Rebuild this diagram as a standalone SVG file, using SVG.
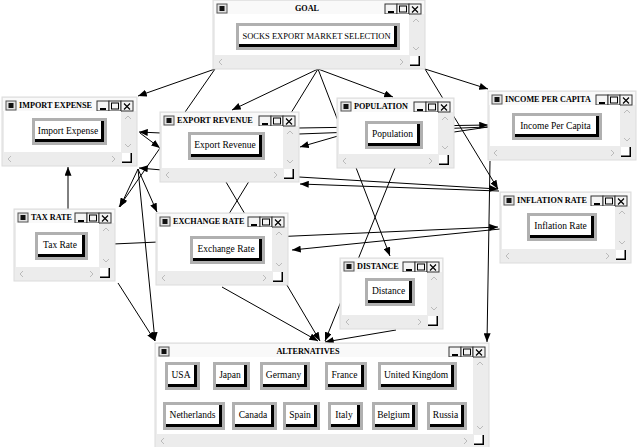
<svg xmlns="http://www.w3.org/2000/svg" width="640" height="447" viewBox="0 0 640 447">
<defs>
<style>
.win{fill:#ececec;stroke:#dcdcdc;stroke-width:1}
.tb{fill:#f9f9f9}
.ct{fill:#fff}
.ic{fill:#e2e2e2;stroke:#555;stroke-width:1}
.icd{fill:#111}
.bt{fill:#f4f4f4;stroke:#333;stroke-width:1}
.gm{stroke:#000;stroke-width:2;fill:none}
.gx{stroke:#000;stroke-width:1.2;fill:none}
.gb{fill:none;stroke:#000;stroke-width:1}
.chev{stroke:#bbb;stroke-width:1;fill:none}
.rz{fill:#fff}
.rzl{stroke:#000;stroke-width:1.5;fill:none}
.title{font-family:"Liberation Serif",serif;font-weight:bold;font-size:8.2px;fill:#000}
.mid{text-anchor:middle}
.lab{font-family:"Liberation Serif",serif;font-size:9.5px;fill:#000;text-anchor:middle}
.nf{fill:#b0b0b0}
.ns{fill:#000}
.nw{fill:#fff}
.ln{stroke:#000;stroke-width:1;fill:none}
</style>
<marker id="ah" viewBox="0 0 10 8" refX="10" refY="4" markerWidth="9" markerHeight="7" markerUnits="userSpaceOnUse" orient="auto"><path d="M0,0 L10,4 L0,8 z" fill="#000"/></marker>
</defs>
<rect width="640" height="447" fill="#fff"/>

<g id="connectors">
<path class="ln" d="M215,69 L138,96" marker-end="url(#ah)"/>
<path class="ln" d="M215,69 L119,207" marker-end="url(#ah)"/>
<path class="ln" d="M318,69 L232,110" marker-end="url(#ah)"/>
<path class="ln" d="M318,69 L224,222" marker-end="url(#ah)"/>
<path class="ln" d="M318,69 L393,97" marker-end="url(#ah)"/>
<path class="ln" d="M318,69 L390,256" marker-end="url(#ah)"/>
<path class="ln" d="M425,69 L488,89" marker-end="url(#ah)"/>
<path class="ln" d="M425,69 L498,189" marker-end="url(#ah)"/>
<path class="ln" d="M161,133 L139,132" marker-end="url(#ah)"/>
<path class="ln" d="M140,133 L160,148" marker-end="url(#ah)"/>
<path class="ln" d="M162,170 L139,168" marker-end="url(#ah)"/>
<path class="ln" d="M138,169 L120,207" marker-end="url(#ah)"/>
<path class="ln" d="M138,169 L157,212" marker-end="url(#ah)"/>
<path class="ln" d="M138,169 L155,341" marker-end="url(#ah)"/>
<path class="ln" d="M68,209 L68,167" marker-end="url(#ah)"/>
<path class="ln" d="M118,283 L155,341" marker-end="url(#ah)"/>
<path class="ln" d="M113,244 L498,227" marker-end="url(#ah)"/>
<path class="ln" d="M500,229 L292,250" marker-end="url(#ah)"/>
<path class="ln" d="M299,177 L498,189" marker-end="url(#ah)"/>
<path class="ln" d="M499,191 L300,184" marker-end="url(#ah)"/>
<path class="ln" d="M222,287 L318,341" marker-end="url(#ah)"/>
<path class="ln" d="M226,182 L320,341" marker-end="url(#ah)"/>
<path class="ln" d="M395,168 L325,341" marker-end="url(#ah)"/>
<path class="ln" d="M396,330 L325,342" marker-end="url(#ah)"/>
<path class="ln" d="M490,161 L487,342" marker-end="url(#ah)"/>
<path class="ln" d="M299,128 L488,125" marker-end="url(#ah)"/>
<path class="ln" d="M299,134 L488,127"/>
<path class="ln" d="M338,136 L300,147" marker-end="url(#ah)"/>
<path class="ln" d="M454,132 L488,127"/>
</g>

<g id="goal">
<rect class="win" x="213" y="0" width="212" height="69"/>
<rect class="tb" x="214" y="1" width="210" height="13"/>
<rect class="ic" x="217" y="4" width="10" height="9"/><rect class="icd" x="219.5" y="6" width="5" height="5"/>
<text class="title mid" x="307" y="11">GOAL</text>
<rect class="bt" x="385" y="4" width="12" height="10"/><path class="gm" d="M388,12 h6"/>
<rect class="bt" x="397" y="4" width="12" height="10"/><rect class="gb" x="399.5" y="6" width="7" height="6"/>
<rect class="bt" x="409" y="4" width="12" height="10"/><path class="gx" d="M412,6.5 l6,6 m0,-6 l-6,6"/>
<rect class="ct" x="215" y="14" width="194" height="41"/>
<path class="chev" d="M413,22 l3,-3 l3,3 M413,47 l3,3 l3,-3 M222,59 l-3,3 l3,3 M400,59 l3,3 l-3,3"/>
<rect class="rz" x="410" y="56" width="10" height="10"/><path class="rzl" d="M410,65.25 H419.25 V56"/>
<g id="node-goal">
<rect class="nf" x="236" y="23" width="164" height="27"/>
<rect class="ns" x="239" y="26" width="158" height="21"/>
<rect class="nw" x="239" y="26" width="155" height="18"/>
<text class="lab" x="316.5" y="38.5" style="font-size:8.5px">SOCKS EXPORT MARKET SELECTION</text>
</g>
</g>

<g id="import-expense">
<rect class="win" x="2" y="97" width="135" height="69"/>
<rect class="tb" x="3" y="98" width="133" height="13"/>
<rect class="ic" x="6" y="101" width="10" height="9"/><rect class="icd" x="8.5" y="103" width="5" height="5"/>
<text class="title" x="19" y="108">IMPORT EXPENSE</text>
<rect class="bt" x="97" y="101" width="12" height="10"/><path class="gm" d="M100,109 h6"/>
<rect class="bt" x="109" y="101" width="12" height="10"/><rect class="gb" x="111.5" y="103" width="7" height="6"/>
<rect class="bt" x="121" y="101" width="12" height="10"/><path class="gx" d="M124,103.5 l6,6 m0,-6 l-6,6"/>
<rect class="ct" x="4" y="111" width="117" height="41"/>
<path class="chev" d="M125,119 l3,-3 l3,3 M125,144 l3,3 l3,-3 M11,156 l-3,3 l3,3 M112,156 l3,3 l-3,3"/>
<rect class="rz" x="122" y="153" width="10" height="10"/><path class="rzl" d="M122,162.25 H131.25 V153"/>
<g id="node-import-expense">
<rect class="nf" x="32" y="118" width="75" height="27"/>
<rect class="ns" x="35" y="121" width="69" height="21"/>
<rect class="nw" x="35" y="121" width="66" height="18"/>
<text class="lab" x="68" y="133.5">Import Expense</text>
</g>
</g>

<g id="export-revenue">
<rect class="win" x="160" y="112" width="139" height="70"/>
<rect class="tb" x="161" y="113" width="137" height="13"/>
<rect class="ic" x="164" y="116" width="10" height="9"/><rect class="icd" x="166.5" y="118" width="5" height="5"/>
<text class="title" x="177" y="123">EXPORT REVENUE</text>
<rect class="bt" x="259" y="116" width="12" height="10"/><path class="gm" d="M262,124 h6"/>
<rect class="bt" x="271" y="116" width="12" height="10"/><rect class="gb" x="273.5" y="118" width="7" height="6"/>
<rect class="bt" x="283" y="116" width="12" height="10"/><path class="gx" d="M286,118.5 l6,6 m0,-6 l-6,6"/>
<rect class="ct" x="162" y="126" width="121" height="42"/>
<path class="chev" d="M287,134 l3,-3 l3,3 M287,160 l3,3 l3,-3 M169,172 l-3,3 l3,3 M274,172 l3,3 l-3,3"/>
<rect class="rz" x="284" y="169" width="10" height="10"/><path class="rzl" d="M284,178.25 H293.25 V169"/>
<g id="node-export-revenue">
<rect class="nf" x="188" y="132" width="77" height="28"/>
<rect class="ns" x="191" y="135" width="71" height="22"/>
<rect class="nw" x="191" y="135" width="68" height="19"/>
<text class="lab" x="225" y="148">Export Revenue</text>
</g>
</g>

<g id="population">
<rect class="win" x="337" y="98" width="117" height="70"/>
<rect class="tb" x="338" y="99" width="115" height="13"/>
<rect class="ic" x="341" y="102" width="10" height="9"/><rect class="icd" x="343.5" y="104" width="5" height="5"/>
<text class="title" x="354" y="109">POPULATION</text>
<rect class="bt" x="414" y="102" width="12" height="10"/><path class="gm" d="M417,110 h6"/>
<rect class="bt" x="426" y="102" width="12" height="10"/><rect class="gb" x="428.5" y="104" width="7" height="6"/>
<rect class="bt" x="438" y="102" width="12" height="10"/><path class="gx" d="M441,104.5 l6,6 m0,-6 l-6,6"/>
<rect class="ct" x="339" y="112" width="99" height="42"/>
<path class="chev" d="M442,120 l3,-3 l3,3 M442,146 l3,3 l3,-3 M346,158 l-3,3 l3,3 M429,158 l3,3 l-3,3"/>
<rect class="rz" x="439" y="155" width="10" height="10"/><path class="rzl" d="M439,164.25 H448.25 V155"/>
<g id="node-population">
<rect class="nf" x="365" y="121" width="58" height="28"/>
<rect class="ns" x="368" y="124" width="52" height="22"/>
<rect class="nw" x="368" y="124" width="49" height="19"/>
<text class="lab" x="392.5" y="137">Population</text>
</g>
</g>

<g id="income-per-capita">
<rect class="win" x="488" y="91" width="148" height="69"/>
<rect class="tb" x="489" y="92" width="146" height="13"/>
<rect class="ic" x="492" y="95" width="10" height="9"/><rect class="icd" x="494.5" y="97" width="5" height="5"/>
<text class="title" x="505" y="102">INCOME PER CAPITA</text>
<rect class="bt" x="596" y="95" width="12" height="10"/><path class="gm" d="M599,103 h6"/>
<rect class="bt" x="608" y="95" width="12" height="10"/><rect class="gb" x="610.5" y="97" width="7" height="6"/>
<rect class="bt" x="620" y="95" width="12" height="10"/><path class="gx" d="M623,97.5 l6,6 m0,-6 l-6,6"/>
<rect class="ct" x="490" y="105" width="130" height="41"/>
<path class="chev" d="M624,113 l3,-3 l3,3 M624,138 l3,3 l3,-3 M497,150 l-3,3 l3,3 M611,150 l3,3 l-3,3"/>
<rect class="rz" x="621" y="147" width="10" height="10"/><path class="rzl" d="M621,156.25 H630.25 V147"/>
<g id="node-income-per-capita">
<rect class="nf" x="512" y="113" width="90" height="27"/>
<rect class="ns" x="515" y="116" width="84" height="21"/>
<rect class="nw" x="515" y="116" width="81" height="18"/>
<text class="lab" x="555.5" y="128.5">Income Per Capita</text>
</g>
</g>

<g id="tax-rate">
<rect class="win" x="14" y="209" width="101" height="72"/>
<rect class="tb" x="15" y="210" width="99" height="13"/>
<rect class="ic" x="18" y="213" width="10" height="9"/><rect class="icd" x="20.5" y="215" width="5" height="5"/>
<text class="title" x="31" y="220">TAX RATE</text>
<rect class="bt" x="75" y="213" width="12" height="10"/><path class="gm" d="M78,221 h6"/>
<rect class="bt" x="87" y="213" width="12" height="10"/><rect class="gb" x="89.5" y="215" width="7" height="6"/>
<rect class="bt" x="99" y="213" width="12" height="10"/><path class="gx" d="M102,215.5 l6,6 m0,-6 l-6,6"/>
<rect class="ct" x="16" y="223" width="83" height="44"/>
<path class="chev" d="M103,231 l3,-3 l3,3 M103,259 l3,3 l3,-3 M23,271 l-3,3 l3,3 M90,271 l3,3 l-3,3"/>
<rect class="rz" x="100" y="268" width="10" height="10"/><path class="rzl" d="M100,277.25 H109.25 V268"/>
<g id="node-tax-rate">
<rect class="nf" x="35" y="232" width="53" height="28"/>
<rect class="ns" x="38" y="235" width="47" height="22"/>
<rect class="nw" x="38" y="235" width="44" height="19"/>
<text class="lab" x="60" y="248">Tax Rate</text>
</g>
</g>

<g id="exchange-rate">
<rect class="win" x="156" y="213" width="132" height="72"/>
<rect class="tb" x="157" y="214" width="130" height="13"/>
<rect class="ic" x="160" y="217" width="10" height="9"/><rect class="icd" x="162.5" y="219" width="5" height="5"/>
<text class="title" x="173" y="224">EXCHANGE RATE</text>
<rect class="bt" x="248" y="217" width="12" height="10"/><path class="gm" d="M251,225 h6"/>
<rect class="bt" x="260" y="217" width="12" height="10"/><rect class="gb" x="262.5" y="219" width="7" height="6"/>
<rect class="bt" x="272" y="217" width="12" height="10"/><path class="gx" d="M275,219.5 l6,6 m0,-6 l-6,6"/>
<rect class="ct" x="158" y="227" width="114" height="44"/>
<path class="chev" d="M276,235 l3,-3 l3,3 M276,263 l3,3 l3,-3 M165,275 l-3,3 l3,3 M263,275 l3,3 l-3,3"/>
<rect class="rz" x="273" y="272" width="10" height="10"/><path class="rzl" d="M273,281.25 H282.25 V272"/>
<g id="node-exchange-rate">
<rect class="nf" x="190" y="236" width="75" height="28"/>
<rect class="ns" x="193" y="239" width="69" height="22"/>
<rect class="nw" x="193" y="239" width="66" height="19"/>
<text class="lab" x="226" y="252">Exchange Rate</text>
</g>
</g>

<g id="inflation-rate">
<rect class="win" x="500" y="192" width="131" height="71"/>
<rect class="tb" x="501" y="193" width="129" height="13"/>
<rect class="ic" x="504" y="196" width="10" height="9"/><rect class="icd" x="506.5" y="198" width="5" height="5"/>
<text class="title" x="517" y="203">INFLATION RATE</text>
<rect class="bt" x="591" y="196" width="12" height="10"/><path class="gm" d="M594,204 h6"/>
<rect class="bt" x="603" y="196" width="12" height="10"/><rect class="gb" x="605.5" y="198" width="7" height="6"/>
<rect class="bt" x="615" y="196" width="12" height="10"/><path class="gx" d="M618,198.5 l6,6 m0,-6 l-6,6"/>
<rect class="ct" x="502" y="206" width="113" height="43"/>
<path class="chev" d="M619,214 l3,-3 l3,3 M619,241 l3,3 l3,-3 M509,253 l-3,3 l3,3 M606,253 l3,3 l-3,3"/>
<rect class="rz" x="616" y="250" width="10" height="10"/><path class="rzl" d="M616,259.25 H625.25 V250"/>
<g id="node-inflation-rate">
<rect class="nf" x="527" y="213" width="70" height="28"/>
<rect class="ns" x="530" y="216" width="64" height="22"/>
<rect class="nw" x="530" y="216" width="61" height="19"/>
<text class="lab" x="560.5" y="229">Inflation Rate</text>
</g>
</g>

<g id="distance">
<rect class="win" x="340" y="258" width="103" height="71"/>
<rect class="tb" x="341" y="259" width="101" height="13"/>
<rect class="ic" x="344" y="262" width="10" height="9"/><rect class="icd" x="346.5" y="264" width="5" height="5"/>
<text class="title" x="357" y="269">DISTANCE</text>
<rect class="bt" x="403" y="262" width="12" height="10"/><path class="gm" d="M406,270 h6"/>
<rect class="bt" x="415" y="262" width="12" height="10"/><rect class="gb" x="417.5" y="264" width="7" height="6"/>
<rect class="bt" x="427" y="262" width="12" height="10"/><path class="gx" d="M430,264.5 l6,6 m0,-6 l-6,6"/>
<rect class="ct" x="342" y="272" width="85" height="43"/>
<path class="chev" d="M431,280 l3,-3 l3,3 M431,307 l3,3 l3,-3 M349,319 l-3,3 l3,3 M418,319 l3,3 l-3,3"/>
<rect class="rz" x="428" y="316" width="10" height="10"/><path class="rzl" d="M428,325.25 H437.25 V316"/>
<g id="node-distance">
<rect class="nf" x="365" y="278" width="50" height="28"/>
<rect class="ns" x="368" y="281" width="44" height="22"/>
<rect class="nw" x="368" y="281" width="41" height="19"/>
<text class="lab" x="388.5" y="294">Distance</text>
</g>
</g>

<g id="alternatives">
<rect class="win" x="155" y="343" width="334" height="105"/>
<rect class="tb" x="156" y="344" width="332" height="13"/>
<rect class="ic" x="159" y="347" width="10" height="9"/><rect class="icd" x="161.5" y="349" width="5" height="5"/>
<text class="title mid" x="308" y="354">ALTERNATIVES</text>
<rect class="bt" x="449" y="347" width="12" height="10"/><path class="gm" d="M452,355 h6"/>
<rect class="bt" x="461" y="347" width="12" height="10"/><rect class="gb" x="463.5" y="349" width="7" height="6"/>
<rect class="bt" x="473" y="347" width="12" height="10"/><path class="gx" d="M476,349.5 l6,6 m0,-6 l-6,6"/>
<rect class="ct" x="157" y="357" width="316" height="77"/>
<path class="chev" d="M477,365 l3,-3 l3,3 M477,426 l3,3 l3,-3 M164,438 l-3,3 l3,3 M464,438 l3,3 l-3,3"/>
<rect class="rz" x="474" y="435" width="10" height="10"/><path class="rzl" d="M474,444.25 H483.25 V435"/>
<g id="node-usa"><rect class="nf" x="165" y="362" width="35" height="28"/><rect class="ns" x="168" y="365" width="29" height="22"/><rect class="nw" x="168" y="365" width="26" height="19"/><text class="lab" x="181" y="378">USA</text></g>
<g id="node-japan"><rect class="nf" x="213" y="362" width="37" height="28"/><rect class="ns" x="216" y="365" width="31" height="22"/><rect class="nw" x="216" y="365" width="28" height="19"/><text class="lab" x="230" y="378">Japan</text></g>
<g id="node-germany"><rect class="nf" x="260" y="362" width="50" height="28"/><rect class="ns" x="263" y="365" width="44" height="22"/><rect class="nw" x="263" y="365" width="41" height="19"/><text class="lab" x="283.5" y="378">Germany</text></g>
<g id="node-france"><rect class="nf" x="325" y="362" width="42" height="28"/><rect class="ns" x="328" y="365" width="36" height="22"/><rect class="nw" x="328" y="365" width="33" height="19"/><text class="lab" x="344.5" y="378">France</text></g>
<g id="node-uk"><rect class="nf" x="378" y="362" width="79" height="28"/><rect class="ns" x="381" y="365" width="73" height="22"/><rect class="nw" x="381" y="365" width="70" height="19"/><text class="lab" x="416" y="378">United Kingdom</text></g>
<g id="node-netherlands"><rect class="nf" x="163" y="402" width="62" height="28"/><rect class="ns" x="166" y="405" width="56" height="22"/><rect class="nw" x="166" y="405" width="53" height="19"/><text class="lab" x="192.5" y="418">Netherlands</text></g>
<g id="node-canada"><rect class="nf" x="232" y="402" width="45" height="28"/><rect class="ns" x="235" y="405" width="39" height="22"/><rect class="nw" x="235" y="405" width="36" height="19"/><text class="lab" x="253" y="418">Canada</text></g>
<g id="node-spain"><rect class="nf" x="283" y="402" width="37" height="28"/><rect class="ns" x="286" y="405" width="31" height="22"/><rect class="nw" x="286" y="405" width="28" height="19"/><text class="lab" x="300" y="418">Spain</text></g>
<g id="node-italy"><rect class="nf" x="328" y="402" width="35" height="28"/><rect class="ns" x="331" y="405" width="29" height="22"/><rect class="nw" x="331" y="405" width="26" height="19"/><text class="lab" x="344" y="418">Italy</text></g>
<g id="node-belgium"><rect class="nf" x="372" y="402" width="46" height="28"/><rect class="ns" x="375" y="405" width="40" height="22"/><rect class="nw" x="375" y="405" width="37" height="19"/><text class="lab" x="393.5" y="418">Belgium</text></g>
<g id="node-russia"><rect class="nf" x="427" y="402" width="40" height="28"/><rect class="ns" x="430" y="405" width="34" height="22"/><rect class="nw" x="430" y="405" width="31" height="19"/><text class="lab" x="445.5" y="418">Russia</text></g>
</g>
</svg>
